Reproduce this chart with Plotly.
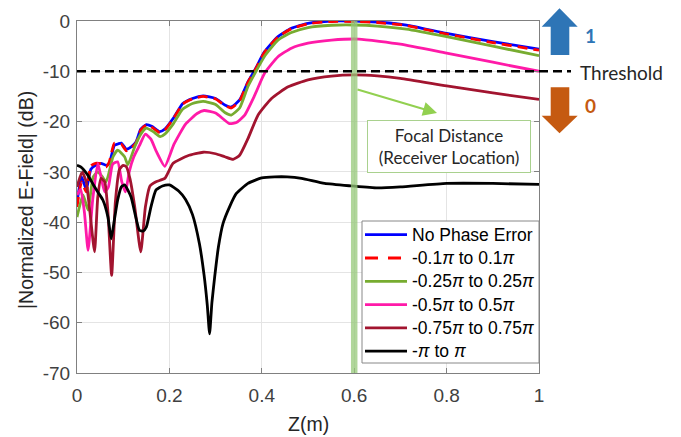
import plotly.graph_objects as go

# ---------------- data ----------------
Z_BLUE = [0, 0.01, 0.02, 0.03, 0.04, 0.052, 0.063, 0.07, 0.081, 0.09, 0.096, 0.107, 0.118, 0.128,
          0.138, 0.15, 0.163, 0.179, 0.19, 0.208, 0.229, 0.25, 0.273, 0.3, 0.32, 0.334, 0.352, 0.37,
          0.385, 0.406, 0.435, 0.464, 0.5, 0.551, 0.6, 0.65, 0.713, 0.8, 0.9, 1.0]
NO_ERR = [-36, -31, -33.5, -29.5, -28.7, -28.3, -28.7, -28.3, -24.7, -24.4, -24.3, -25.5, -25, -24,
          -21.5, -20.6, -21, -22, -21.5, -19.4, -16.4, -15.4, -14.9, -15.4, -16.7, -17.1, -15.7, -12.1,
          -9.75, -6.1, -3.1, -1.46, -0.46, 0, 0, -0.2, -0.8, -2.45, -4.1, -5.6]
ERR_01 = [-37, -32, -34, -28.8, -28.3, -28.4, -29, -28, -24.3, -24.5, -24.5, -25.8, -25.2, -24.2,
          -21.7, -20.7, -21.2, -22.2, -21.7, -19.5, -16.5, -15.5, -15.0, -15.5, -16.8, -17.3, -15.9, -12.2,
          -9.85, -6.2, -3.2, -1.55, -0.55, -0.1, -0.1, -0.3, -0.9, -2.6, -4.3, -5.8]

Z_GREEN = [0, 0.013, 0.024, 0.035, 0.045, 0.055, 0.063, 0.078, 0.088, 0.103, 0.11, 0.125, 0.138, 0.15,
           0.165, 0.18, 0.19, 0.208, 0.229, 0.25, 0.273, 0.3, 0.32, 0.334, 0.352, 0.37, 0.385, 0.406,
           0.435, 0.464, 0.5, 0.551, 0.6, 0.65, 0.713, 0.8, 0.9, 1.0]
ERR_025 = [-39, -34.6, -37.6, -31, -30, -31, -32, -27, -25.7, -27, -28.6, -25, -22.5, -21.3,
           -22, -23, -22.5, -20.5, -17.5, -16.4, -16, -16.6, -18.2, -18.7, -17.3, -13, -10.4, -7,
           -3.8, -2.3, -1.3, -0.85, -0.8, -1.0, -1.6, -3.1, -5.0, -6.9]

Z_PINK = [0, 0.008, 0.016, 0.024, 0.034, 0.045, 0.052, 0.06, 0.068, 0.077, 0.088, 0.097, 0.105, 0.113,
          0.123, 0.135, 0.148, 0.16, 0.172, 0.19, 0.21, 0.235, 0.26, 0.275, 0.3, 0.33, 0.345, 0.363,
          0.385, 0.406, 0.435, 0.464, 0.5, 0.551, 0.61, 0.7, 0.8, 0.9, 1.0]
ERR_05 = [-34.6, -33.5, -38, -45.6, -35.5, -28.3, -31, -34, -33, -28.5, -28, -32, -34, -30,
          -27, -24.8, -22.5, -23.5, -26, -28.9, -24.5, -20.5, -18.4, -17.8, -18.3, -20.4, -20.2, -18.7,
          -14.7, -10.4, -7.1, -5.4, -4.4, -3.8, -3.6, -4.6, -6.4, -8.2, -10]

Z_DRED = [0, 0.011, 0.02, 0.028, 0.038, 0.045, 0.052, 0.06, 0.067, 0.075, 0.083, 0.092, 0.1, 0.107,
          0.115, 0.125, 0.138, 0.148, 0.158, 0.17, 0.19, 0.208, 0.24, 0.273, 0.3, 0.32, 0.338, 0.352,
          0.37, 0.392, 0.421, 0.457, 0.5, 0.551, 0.6, 0.65, 0.7, 0.8, 0.9, 1.0]
ERR_075 = [-33, -30, -32, -38, -45.9, -35, -31.3, -32, -38, -50.6, -36, -29.5, -28.7, -29,
           -31.5, -37, -45.9, -37, -32.8, -32, -31.3, -28.3, -26.8, -26.1, -26.4, -27, -27.5, -26.7,
           -23.4, -18.7, -15.4, -13.1, -11.7, -10.95, -10.7, -10.9, -11.4, -12.9, -14.3, -15.6]

Z_BLACK = [0, 0.008, 0.023, 0.035, 0.045, 0.056, 0.067, 0.074, 0.081, 0.088, 0.096, 0.103, 0.117, 0.126,
           0.135, 0.143, 0.15, 0.16, 0.171, 0.185, 0.2, 0.22, 0.235, 0.25, 0.265, 0.275, 0.282, 0.287,
           0.292, 0.298, 0.306, 0.316, 0.33, 0.345, 0.37, 0.4, 0.428, 0.455, 0.486, 0.536, 0.594, 0.65,
           0.7, 0.8, 0.9, 1.0]
ERR_1 = [-28.7, -29, -30.6, -32.5, -34, -35.6, -39, -43.3, -39.5, -35.6, -33, -32.6, -35, -38.5,
         -41.6, -41.8, -41, -37, -33.6, -32.8, -32.6, -33.8, -35.5, -38.5, -44.3, -50.5, -56.5, -62.2,
         -56, -50.9, -45, -40.3, -37, -34.3, -32.3, -31.2, -31, -31, -31.3, -32.3, -32.8, -33.2,
         -33, -32.3, -32.3, -32.5]

NAMES = ["No Phase Error", "-0.1<i>π</i> to 0.1<i>π</i>", "-0.25<i>π</i> to 0.25<i>π</i>",
         "-0.5<i>π</i> to 0.5<i>π</i>", "-0.75<i>π</i> to 0.75<i>π</i>", "-<i>π</i> to <i>π</i>"]
COLORS = ["#0000ff", "#ff0000", "#77ac30", "#ff1aa8", "#a2142f", "#000000"]

THRESHOLD = -10
FOCAL_Z = 0.6
X_TICKS = [0, 0.2, 0.4, 0.6, 0.8, 1]
Y_TICKS = [0, -10, -20, -30, -40, -50, -60, -70]

# ---------------- layout geometry ----------------
W, H = 681, 437
ML, MR, MT, MB = 77, 142, 21, 64
PW, PH = W - ML - MR, H - MT - MB


def px(x):
    return (x - ML) / PW


def py(y):
    return (H - MB - y) / PH


FONT = "Liberation Sans, Arial, sans-serif"
CAL = "Lato, Open Sans, sans-serif"

fig = go.Figure()
series = [(Z_BLUE, NO_ERR), (Z_BLUE, ERR_01), (Z_GREEN, ERR_025),
          (Z_PINK, ERR_05), (Z_DRED, ERR_075), (Z_BLACK, ERR_1)]
for i, (zz, yy) in enumerate(series):
    fig.add_trace(go.Scatter(
        x=zz, y=yy, mode="lines", name=NAMES[i], showlegend=False,
        line=dict(color=COLORS[i], width=2.8, dash="10px,6px" if i == 1 else "solid",
                  shape="spline", smoothing=0.5),
    ))

shapes = []
annotations = []
# focal distance bar
shapes.append(dict(type="line", xref="x", yref="paper", x0=FOCAL_Z, x1=FOCAL_Z, y0=0, y1=1,
                   line=dict(color="rgba(150,200,120,0.75)", width=6.5), layer="above"))
# threshold line
shapes.append(dict(type="line", xref="paper", yref="y", x0=0, x1=px(571), y0=THRESHOLD, y1=THRESHOLD,
                   line=dict(color="black", width=2.5, dash="9px,5px"), layer="above"))
# legend box + entries
shapes.append(dict(type="rect", xref="paper", yref="paper", x0=px(362), x1=px(539), y0=py(363), y1=py(221),
                   fillcolor="white", line=dict(color="#888888", width=1), layer="above"))
for i, name in enumerate(NAMES):
    yy = 234.7 + i * 23.3
    shapes.append(dict(type="line", xref="paper", yref="paper", x0=px(365), x1=px(407), y0=py(yy), y1=py(yy),
                       line=dict(color=COLORS[i], width=2.8, dash="13px,10px" if i == 1 else "solid"),
                       layer="above"))
    annotations.append(dict(xref="paper", yref="paper", x=px(410), y=py(yy), text=name, showarrow=False,
                            xanchor="left", yanchor="middle",
                            font=dict(family=FONT, size=17.5, color="#000000")))


def poly(pts):
    s = "M " + " L ".join(f"{px(a):.5f},{py(b):.5f}" for a, b in pts) + " Z"
    return s


up = [(550.7, 55), (550.7, 26.7), (541.7, 26.7), (559.5, 8.3), (577.7, 26.7), (569.3, 26.7), (569.3, 55)]
down = [(550.7, 87.3), (569.3, 87.3), (569.3, 115.7), (577.7, 115.7), (559.5, 133.3), (541.7, 115.7), (550.7, 115.7)]
shapes.append(dict(type="path", xref="paper", yref="paper", path=poly(up),
                   fillcolor="#2e75b6", line=dict(width=0)))
shapes.append(dict(type="path", xref="paper", yref="paper", path=poly(down),
                   fillcolor="#c55a11", line=dict(width=0)))

annotations += [
    dict(xref="paper", yref="paper", x=px(26), y=py(200), text="|Normalized E-Field| (dB)",
         textangle=-90, showarrow=False, font=dict(family=FONT, size=19.5, color="#262626"),
         xanchor="center", yanchor="middle"),
    dict(xref="paper", yref="paper", x=0.5, y=py(424), text="Z(m)", showarrow=False,
         font=dict(family=FONT, size=19.5, color="#262626"), xanchor="center", yanchor="middle"),
    dict(xref="paper", yref="paper", x=px(578), y=py(72), text="Threshold", showarrow=False,
         font=dict(family=CAL, size=19, color="#262626"), xanchor="left", yanchor="middle"),
    dict(xref="paper", yref="paper", x=px(590), y=py(35), text="<b>1</b>", showarrow=False,
         font=dict(family=CAL, size=19, color="#2e75b6"), xanchor="center", yanchor="middle"),
    dict(xref="paper", yref="paper", x=px(590), y=py(105), text="<b>0</b>", showarrow=False,
         font=dict(family=CAL, size=19, color="#c55a11"), xanchor="center", yanchor="middle"),
    dict(xref="paper", yref="paper", x=px(437), y=py(113), text="", showarrow=True,
         ax=356 - 437, ay=89 - 113, axref="pixel", ayref="pixel",
         arrowhead=2, arrowsize=1.4, arrowwidth=2, arrowcolor="#92d050"),
    dict(xref="paper", yref="paper", x=px(449), y=py(146.5),
         text="Focal Distance<br>(Receiver Location)", showarrow=False,
         font=dict(family=CAL, size=17, color="#262626"), align="center",
         width=162, height=51, bgcolor="white", bordercolor="#a9d18e", borderwidth=1, borderpad=0,
         xanchor="center", yanchor="middle"),
]

axis_common = dict(showline=True, linecolor="#808080", linewidth=1, mirror="ticks",
                   ticks="inside", ticklen=5, tickcolor="#808080",
                   showgrid=True, gridcolor="#e4e4e4", gridwidth=1, zeroline=False,
                   tickfont=dict(family=FONT, size=19, color="#404040"))

fig.update_layout(
    width=W, height=H,
    margin=dict(l=ML, r=MR, t=MT, b=MB, pad=0),
    paper_bgcolor="white", plot_bgcolor="white",
    xaxis=dict(range=[0, 1], tickvals=X_TICKS, ticktext=[str(v) for v in X_TICKS],
               ticklabelstandoff=5, **axis_common),
    yaxis=dict(range=[-70, 0], tickvals=Y_TICKS, ticktext=[str(v) for v in Y_TICKS],
               ticklabelstandoff=2, **axis_common),
    showlegend=False,
    shapes=shapes,
    annotations=annotations,
)

fig.write_html("out.html")
